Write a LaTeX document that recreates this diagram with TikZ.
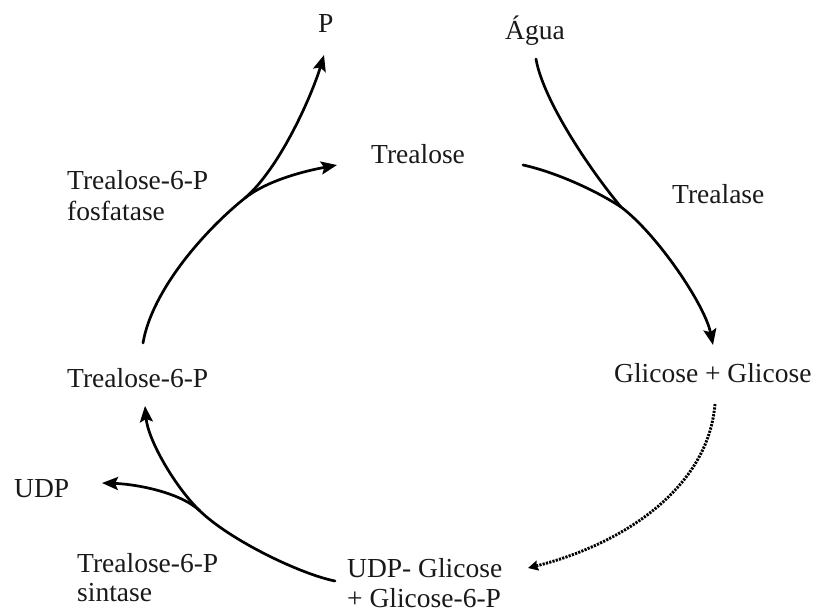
\documentclass[tikz,border=0pt]{standalone}
\usepackage{fontspec}
\setmainfont{Liberation Serif}
\usetikzlibrary{arrows.meta}

\tikzset{
  lbl/.style={anchor=base west, inner sep=0pt, font=\fontsize{27.5}{31}\selectfont, text=black!90},
  flow/.style={line width=2.7pt, line cap=round},
  flowarrow/.style={flow, -{Stealth[length=16pt,width=13pt,inset=3pt]}},
  dotflow/.style={line width=2.9pt, dash pattern=on 2.2pt off 1.2pt,
    -{Stealth[length=10pt,width=10pt,inset=1pt]}}
}

\begin{document}
\begin{tikzpicture}[x=1pt,y=-1pt]
  \useasboundingbox (0,0) rectangle (823,616);

  % labels
  \node[lbl] (p)     at (318,32)  {P};
  \node[lbl] (agua)  at (505,39)  {Água};
  \node[lbl] (trea)  at (371,163) {Trealose};
  \node[lbl] (fosA)  at (67,189)  {Trealose-6-P};
  \node[lbl] (fosB)  at (67,220)  {fosfatase};
  \node[lbl] (trase) at (672,203) {Trealase};
  \node[lbl] (glic)  at (614,382) {Glicose + Glicose};
  \node[lbl] (t6p)   at (67,387)  {Trealose-6-P};
  \node[lbl] (udp)   at (14,497)  {UDP};
  \node[lbl] (sinA)  at (77,572)  {Trealose-6-P};
  \node[lbl] (sinB)  at (77,601)  {sintase};
  \node[lbl] (udpgA) at (347,577) {UDP- Glicose};
  \node[lbl] (udpgB) at (347,607) {+ Glicose-6-P};

  % end points and branch points of the arrows
  \coordinate (t6pOut)  at (143,343);
  \coordinate (jTop)    at (245,198);
  \coordinate (pIn)     at (324,55);
  \coordinate (treaIn)  at (337,165);
  \coordinate (treaOut) at (523,165);
  \coordinate (aguaOut) at (536,59);
  \coordinate (jRight)  at (621,207);
  \coordinate (glicIn)  at (713,345);
  \coordinate (glicOut) at (715,404);
  \coordinate (udpgIn)  at (528,568);
  \coordinate (udpgOut) at (335,581);
  \coordinate (jBot)    at (200,511);
  \coordinate (t6pIn)   at (145,406);
  \coordinate (udpIn)   at (102,483);

  % Trealose-6-P fosfatase: Trealose-6-P -> P + Trealose
  \draw[flowarrow] (t6pOut) .. controls (152,290) and (205,230) .. (jTop)
                            .. controls (280,168) and (312,95) .. (pIn);
  \draw[flowarrow] (jTop) .. controls (268,180) and (305,171) .. (treaIn);

  % Trealase: Trealose + Água -> Glicose + Glicose
  \draw[flowarrow] (treaOut) .. controls (555,172) and (595,190) .. (jRight)
                             .. controls (657,234) and (705,305) .. (glicIn);
  \draw[flow] (aguaOut) .. controls (543,100) and (590,170) .. (jRight);

  % Glicose -> UDP-Glicose + Glicose-6-P
  \draw[dotflow] (glicOut) .. controls (708,490) and (620,545) .. (udpgIn);

  % Trealose-6-P sintase: UDP-Glicose + Glicose-6-P -> Trealose-6-P + UDP
  \draw[flowarrow] (udpgOut) .. controls (300,574) and (230,540) .. (jBot)
                             .. controls (175,487) and (148,440) .. (t6pIn);
  \draw[flowarrow] (jBot) .. controls (180,492) and (135,484) .. (udpIn);
\end{tikzpicture}
\end{document}
